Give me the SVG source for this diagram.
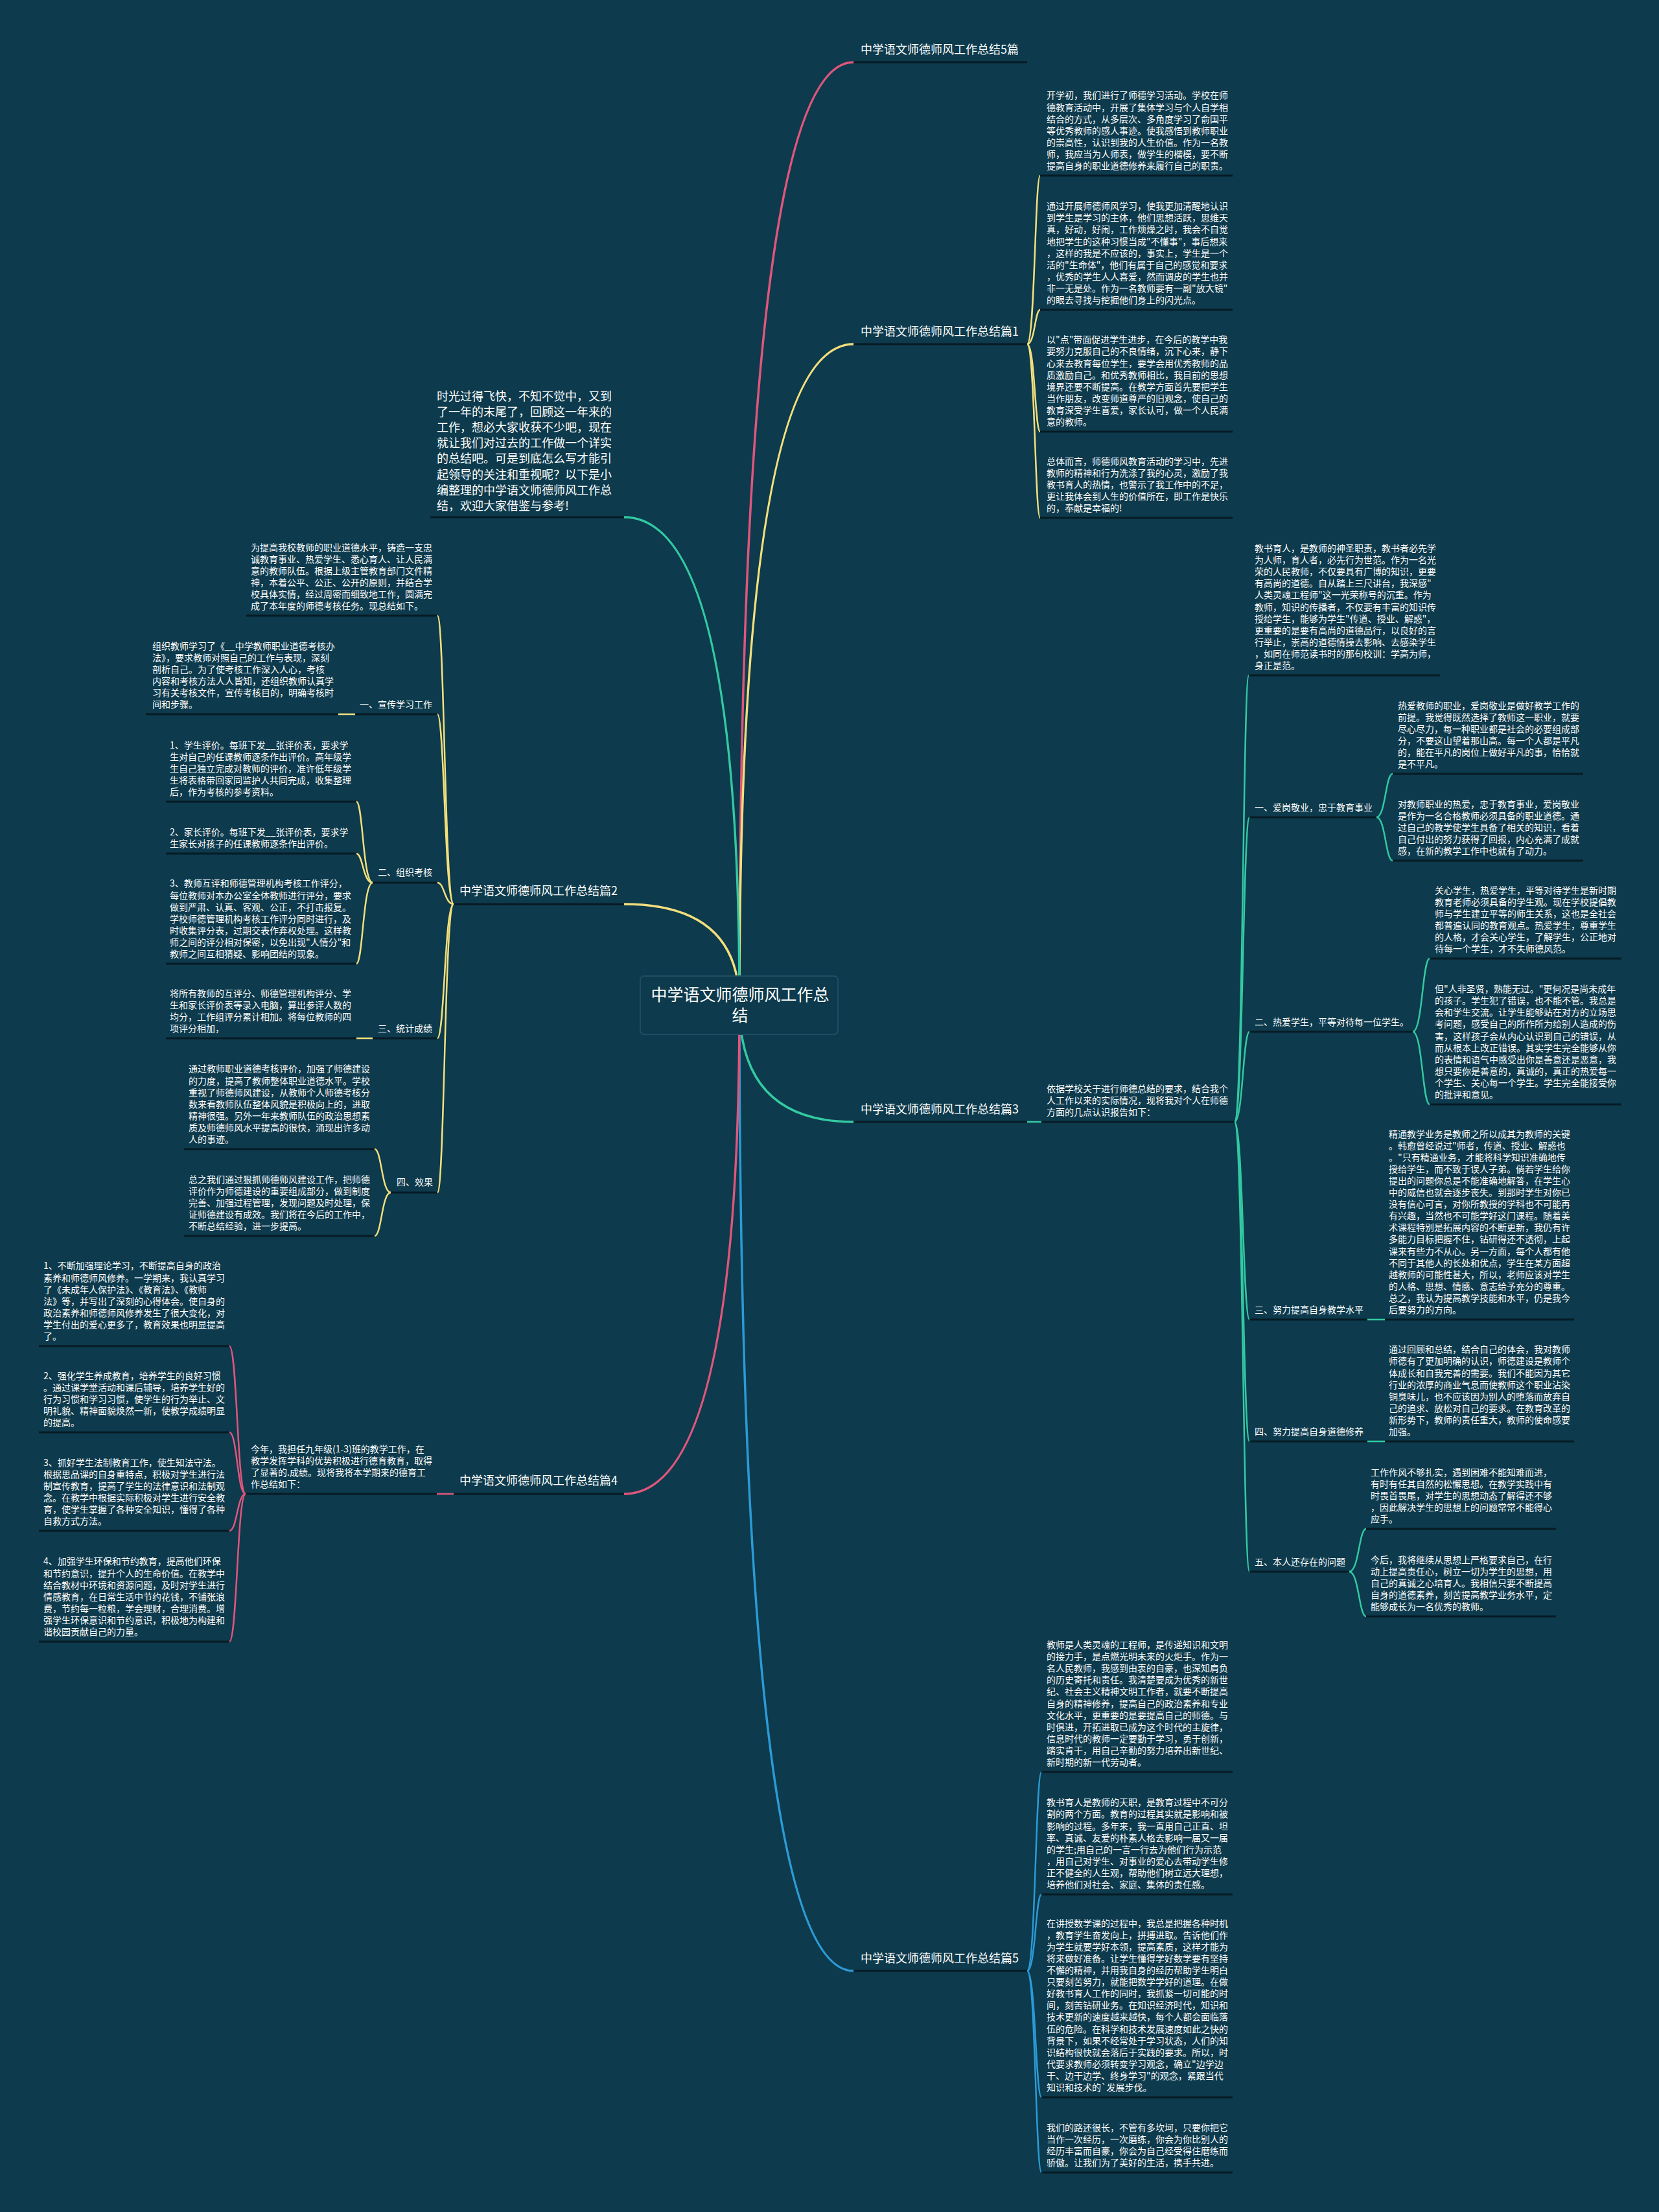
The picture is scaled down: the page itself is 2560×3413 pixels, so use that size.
<svg xmlns="http://www.w3.org/2000/svg" width="2560" height="3413" viewBox="0 0 2560 3413">
<style>
text{fill:#ffffff;font-family:"Noto Sans CJK SC","Noto Sans",sans-serif}
.t14{font-size:14px}
.t18{font-size:18px}
.t25{font-size:25px}
.ul{stroke:#071b24;stroke-width:3;fill:none}
.c{fill:none;stroke-linecap:round}
.m{stroke-width:3.5}
.s{stroke-width:2.5}
.pk{stroke:#e0567c}
.yl{stroke:#f3df7c}
.gn{stroke:#33c9a2}
.bl{stroke:#2b9bd6}
</style>
<rect width="2560" height="3413" fill="#0d3a4c"/>

<g id="connectors">
<path class="c m pk" d="M1141,1550 Q1141,96 1317,96"/>
<path class="c m yl" d="M1141,1550 Q1141,531 1317,531"/>
<path class="c m gn" d="M1141,1550 Q1141,1731 1317,1731"/>
<path class="c m bl" d="M1141,1550 Q1141,3041 1317,3041"/>
<path class="c m gn" d="M1141,1550 Q1141,798 963,798"/>
<path class="c m yl" d="M1141,1550 Q1141,1395 963,1395"/>
<path class="c m pk" d="M1141,1550 Q1141,2305 963,2305"/>
<!-- section 1 -->
<path class="c s yl" d="M1585,531 C1597,531 1597,271 1605,271"/>
<path class="c s yl" d="M1585,531 C1597,531 1597,478 1605,478"/>
<path class="c s yl" d="M1585,531 C1597,531 1597,666 1605,666"/>
<path class="c s yl" d="M1585,531 C1597,531 1597,799 1605,799"/>
<!-- section 5 -->
<path class="c s bl" d="M1585,3041 C1598,3041 1598,2734 1607,2734"/>
<path class="c s bl" d="M1585,3041 C1598,3041 1598,2923 1607,2923"/>
<path class="c s bl" d="M1585,3041 C1598,3041 1598,3236 1607,3236"/>
<path class="c s bl" d="M1585,3041 C1598,3041 1598,3352 1607,3352"/>
<!-- section 3 -->
<path class="c s gn" d="M1585,1731 L1607,1731"/>
<path class="c s gn" d="M1905,1731 C1918,1731 1918,1042 1927,1042"/>
<path class="c s gn" d="M1905,1731 C1918,1731 1918,1261 1928,1261"/>
<path class="c s gn" d="M1905,1731 C1918,1731 1918,1592 1928,1592"/>
<path class="c s gn" d="M1905,1731 C1918,1731 1918,2036 1928,2036"/>
<path class="c s gn" d="M1905,1731 C1918,1731 1918,2224 1928,2224"/>
<path class="c s gn" d="M1905,1731 C1918,1731 1918,2425 1928,2425"/>
<path class="c s gn" d="M2124,1261 C2138,1261 2138,1194 2149,1194"/>
<path class="c s gn" d="M2124,1261 C2138,1261 2138,1328 2149,1328"/>
<path class="c s gn" d="M2180,1592 C2195,1592 2195,1479 2206,1479"/>
<path class="c s gn" d="M2180,1592 C2195,1592 2195,1704 2206,1704"/>
<path class="c s gn" d="M2110,2036 L2137,2036"/>
<path class="c s gn" d="M2110,2224 L2137,2224"/>
<path class="c s gn" d="M2082,2425 C2097,2425 2097,2359 2108,2359"/>
<path class="c s gn" d="M2082,2425 C2097,2425 2097,2494 2108,2494"/>
<!-- section 2 -->
<path class="c s yl" d="M700,1395 C686,1395 686,950 675,950"/>
<path class="c s yl" d="M700,1395 C686,1395 686,1102 675,1102"/>
<path class="c s yl" d="M700,1395 C686,1395 686,1362 675,1362"/>
<path class="c s yl" d="M700,1395 C686,1395 686,1602 675,1602"/>
<path class="c s yl" d="M700,1395 C686,1395 686,1840 675,1840"/>
<path class="c s yl" d="M548,1102 L522,1102"/>
<path class="c s yl" d="M575,1362 C560,1362 560,1237 550,1237"/>
<path class="c s yl" d="M575,1362 C560,1362 560,1317 550,1317"/>
<path class="c s yl" d="M575,1362 C560,1362 560,1487 550,1487"/>
<path class="c s yl" d="M575,1602 L550,1602"/>
<path class="c s yl" d="M603,1840 C589,1840 589,1773 578,1773"/>
<path class="c s yl" d="M603,1840 C589,1840 589,1907 578,1907"/>
<!-- section 4 -->
<path class="c s pk" d="M700,2305 L674,2305"/>
<path class="c s pk" d="M379,2305 C366,2305 366,2077 354,2077"/>
<path class="c s pk" d="M379,2305 C366,2305 366,2210 354,2210"/>
<path class="c s pk" d="M379,2305 C366,2305 366,2362 354,2362"/>
<path class="c s pk" d="M379,2305 C366,2305 366,2533 354,2533"/>
</g>

<g id="center">
<rect x="988" y="1506" width="305" height="90" rx="6" fill="#0d3a4c" stroke="#1d4f62" stroke-width="2"/>
<text class="t25" x="1142" y="1544" text-anchor="middle">中学语文师德师风工作总<tspan x="1142" dy="32">结</tspan></text>
</g>

<g id="intro">
<text class="t18" x="674" y="617.5"><tspan x="674">时光过得飞快，不知不觉中，又到</tspan><tspan x="674" dy="24.2">了一年的末尾了，回顾这一年来的</tspan><tspan x="674" dy="24.2">工作，想必大家收获不少吧，现在</tspan><tspan x="674" dy="24.2">就让我们对过去的工作做一个详实</tspan><tspan x="674" dy="24.2">的总结吧。可是到底怎么写才能引</tspan><tspan x="674" dy="24.2">起领导的关注和重视呢？以下是小</tspan><tspan x="674" dy="24.2">编整理的中学语文师德师风工作总</tspan><tspan x="674" dy="24.2">结，欢迎大家借鉴与参考!</tspan></text>
<line class="ul" x1="664" y1="798" x2="963" y2="798"/>
</g>

<!-- Section 5篇 -->
<g id="sec0">
<text class="t18" x="1328" y="83">中学语文师德师风工作总结5篇</text>
<line class="ul" x1="1317" y1="96" x2="1585" y2="96"/>
</g>

<!-- Section 1 -->
<g id="sec1">
<text class="t18" x="1328" y="518">中学语文师德师风工作总结篇1</text>
<line class="ul" x1="1317" y1="531" x2="1585" y2="531"/>
</g>
<g id="sec1-a">
<text class="t14" x="1615" y="152.4"><tspan x="1615">开学初，我们进行了师德学习活动。学校在师</tspan><tspan x="1615" dy="18.1">德教育活动中，开展了集体学习与个人自学相</tspan><tspan x="1615" dy="18.1">结合的方式，从多层次、多角度学习了俞国平</tspan><tspan x="1615" dy="18.1">等优秀教师的感人事迹。使我感悟到教师职业</tspan><tspan x="1615" dy="18.1">的崇高性，认识到我的人生价值。作为一名教</tspan><tspan x="1615" dy="18.1">师，我应当为人师表，做学生的楷模，要不断</tspan><tspan x="1615" dy="18.1">提高自身的职业道德修养来履行自己的职责。</tspan></text>
<line class="ul" x1="1605" y1="271" x2="1902" y2="271"/>
</g>
<g id="sec1-b">
<text class="t14" x="1615" y="323.2"><tspan x="1615">通过开展师德师风学习，使我更加清醒地认识</tspan><tspan x="1615" dy="18.1">到学生是学习的主体，他们思想活跃，思维天</tspan><tspan x="1615" dy="18.1">真，好动，好闹，工作烦燥之时，我会不自觉</tspan><tspan x="1615" dy="18.1">地把学生的这种习惯当成"不懂事"，事后想来</tspan><tspan x="1615" dy="18.1">，这样的我是不应该的，事实上，学生是一个</tspan><tspan x="1615" dy="18.1">活的"生命体"，他们有属于自己的感觉和要求</tspan><tspan x="1615" dy="18.1">，优秀的学生人人喜爱，然而调皮的学生也并</tspan><tspan x="1615" dy="18.1">非一无是处。作为一名教师要有一副"放大镜"</tspan><tspan x="1615" dy="18.1">的眼去寻找与挖掘他们身上的闪光点。</tspan></text>
<line class="ul" x1="1605" y1="478" x2="1902" y2="478"/>
</g>
<g id="sec1-c">
<text class="t14" x="1615" y="529.3"><tspan x="1615">以"点"带面促进学生进步，在今后的教学中我</tspan><tspan x="1615" dy="18.1">要努力克服自己的不良情绪，沉下心来，静下</tspan><tspan x="1615" dy="18.1">心来去教育每位学生，要学会用优秀教师的品</tspan><tspan x="1615" dy="18.1">质激励自己。和优秀教师相比，我目前的思想</tspan><tspan x="1615" dy="18.1">境界还要不断提高。在教学方面首先要把学生</tspan><tspan x="1615" dy="18.1">当作朋友，改变师道尊严的旧观念，使自己的</tspan><tspan x="1615" dy="18.1">教育深受学生喜爱，家长认可，做一个人民满</tspan><tspan x="1615" dy="18.1">意的教师。</tspan></text>
<line class="ul" x1="1605" y1="666" x2="1902" y2="666"/>
</g>
<g id="sec1-d">
<text class="t14" x="1615" y="716.6"><tspan x="1615">总体而言，师德师风教育活动的学习中，先进</tspan><tspan x="1615" dy="18.1">教师的精神和行为洗涤了我的心灵，激励了我</tspan><tspan x="1615" dy="18.1">教书育人的热情，也警示了我工作中的不足，</tspan><tspan x="1615" dy="18.1">更让我体会到人生的价值所在，即工作是快乐</tspan><tspan x="1615" dy="18.1">的，奉献是幸福的!</tspan></text>
<line class="ul" x1="1605" y1="799" x2="1902" y2="799"/>
</g>

<!-- Section 2 -->
<g id="sec2">
<text class="t18" x="709" y="1381">中学语文师德师风工作总结篇2</text>
<line class="ul" x1="700" y1="1395" x2="963" y2="1395"/>
</g>
<g id="sec2-intro">
<text class="t14" x="387" y="849.5"><tspan x="387">为提高我校教师的职业道德水平，铸造一支忠</tspan><tspan x="387" dy="18.1">诚教育事业、热爱学生、悉心育人、让人民满</tspan><tspan x="387" dy="18.1">意的教师队伍。根据上级主管教育部门文件精</tspan><tspan x="387" dy="18.1">神，本着公平、公正、公开的原则，并结合学</tspan><tspan x="387" dy="18.1">校具体实情，经过周密而细致地工作，圆满完</tspan><tspan x="387" dy="18.1">成了本年度的师德考核任务。现总结如下。</tspan></text>
<line class="ul" x1="380" y1="950" x2="675" y2="950"/>
</g>
<g id="sec2-1">
<text class="t14" x="555" y="1092">一、宣传学习工作</text>
<line class="ul" x1="548" y1="1102" x2="675" y2="1102"/>
</g>
<g id="sec2-1a">
<text class="t14" x="235" y="1001.5"><tspan x="235">组织教师学习了《__中学教师职业道德考核办</tspan><tspan x="235" dy="18.1">法》，要求教师对照自己的工作与表现，深刻</tspan><tspan x="235" dy="18.1">剖析自己。为了使考核工作深入人心，考核</tspan><tspan x="235" dy="18.1">内容和考核方法人人皆知，还组织教师认真学</tspan><tspan x="235" dy="18.1">习有关考核文件，宣传考核目的，明确考核时</tspan><tspan x="235" dy="18.1">间和步骤。</tspan></text>
<line class="ul" x1="225" y1="1102" x2="522" y2="1102"/>
</g>
<g id="sec2-2">
<text class="t14" x="583" y="1351">二、组织考核</text>
<line class="ul" x1="575" y1="1362" x2="675" y2="1362"/>
</g>
<g id="sec2-2a">
<text class="t14" x="262" y="1154.6"><tspan x="262">1、学生评价。每班下发__张评价表，要求学</tspan><tspan x="262" dy="18.1">生对自己的任课教师逐条作出评价。高年级学</tspan><tspan x="262" dy="18.1">生自己独立完成对教师的评价，准许低年级学</tspan><tspan x="262" dy="18.1">生将表格带回家同监护人共同完成，收集整理</tspan><tspan x="262" dy="18.1">后，作为考核的参考资料。</tspan></text>
<line class="ul" x1="256" y1="1237" x2="550" y2="1237"/>
</g>
<g id="sec2-2b">
<text class="t14" x="262" y="1288.9"><tspan x="262">2、家长评价。每班下发__张评价表，要求学</tspan><tspan x="262" dy="18.1">生家长对孩子的任课教师逐条作出评价。</tspan></text>
<line class="ul" x1="256" y1="1317" x2="550" y2="1317"/>
</g>
<g id="sec2-2c">
<text class="t14" x="262" y="1368.4"><tspan x="262">3、教师互评和师德管理机构考核工作评分，</tspan><tspan x="262" dy="18.1">每位教师对本办公室全体教师进行评分，要求</tspan><tspan x="262" dy="18.1">做到严肃、认真、客观、公正，不打击报复。</tspan><tspan x="262" dy="18.1">学校师德管理机构考核工作评分同时进行，及</tspan><tspan x="262" dy="18.1">时收集评分表，过期交表作弃权处理。这样教</tspan><tspan x="262" dy="18.1">师之间的评分相对保密，以免出现"人情分"和</tspan><tspan x="262" dy="18.1">教师之间互相猜疑、影响团结的现象。</tspan></text>
<line class="ul" x1="256" y1="1487" x2="550" y2="1487"/>
</g>
<g id="sec2-3">
<text class="t14" x="583" y="1592">三、统计成绩</text>
<line class="ul" x1="575" y1="1602" x2="675" y2="1602"/>
</g>
<g id="sec2-3a">
<text class="t14" x="262" y="1537.7"><tspan x="262">将所有教师的互评分、师德管理机构评分、学</tspan><tspan x="262" dy="18.1">生和家长评价表等录入电脑，算出参评人数的</tspan><tspan x="262" dy="18.1">均分，工作组评分累计相加。将每位教师的四</tspan><tspan x="262" dy="18.1">项评分相加，</tspan></text>
<line class="ul" x1="256" y1="1602" x2="550" y2="1602"/>
</g>
<g id="sec2-4">
<text class="t14" x="612" y="1829">四、效果</text>
<line class="ul" x1="603" y1="1840" x2="675" y2="1840"/>
</g>
<g id="sec2-4a">
<text class="t14" x="291" y="1654.4"><tspan x="291">通过教师职业道德考核评价，加强了师德建设</tspan><tspan x="291" dy="18.1">的力度，提高了教师整体职业道德水平。学校</tspan><tspan x="291" dy="18.1">重视了师德师风建设，从教师个人师德考核分</tspan><tspan x="291" dy="18.1">数来看教师队伍整体风貌是积极向上的，进取</tspan><tspan x="291" dy="18.1">精神很强。另外一年来教师队伍的政治思想素</tspan><tspan x="291" dy="18.1">质及师德师风水平提高的很快，涌现出许多动</tspan><tspan x="291" dy="18.1">人的事迹。</tspan></text>
<line class="ul" x1="284" y1="1773" x2="578" y2="1773"/>
</g>
<g id="sec2-4b">
<text class="t14" x="291" y="1824.6"><tspan x="291">总之我们通过狠抓师德师风建设工作，把师德</tspan><tspan x="291" dy="18.1">评价作为师德建设的重要组成部分，做到制度</tspan><tspan x="291" dy="18.1">完善、加强过程管理，发现问题及时处理，保</tspan><tspan x="291" dy="18.1">证师德建设有成效。我们将在今后的工作中，</tspan><tspan x="291" dy="18.1">不断总结经验，进一步提高。</tspan></text>
<line class="ul" x1="284" y1="1907" x2="578" y2="1907"/>
</g>

<!-- Section 3 -->
<g id="sec3">
<text class="t18" x="1328" y="1718">中学语文师德师风工作总结篇3</text>
<line class="ul" x1="1317" y1="1731" x2="1585" y2="1731"/>
</g>
<g id="sec3-intro">
<text class="t14" x="1615" y="1684.8"><tspan x="1615">依据学校关于进行师德总结的要求，结合我个</tspan><tspan x="1615" dy="18.1">人工作以来的实际情况，现将我对个人在师德</tspan><tspan x="1615" dy="18.1">方面的几点认识报告如下：</tspan></text>
<line class="ul" x1="1607" y1="1731" x2="1905" y2="1731"/>
</g>
<g id="sec3-0">
<text class="t14" x="1936" y="851"><tspan x="1936">教书育人，是教师的神圣职责，教书者必先学</tspan><tspan x="1936" dy="18.1">为人师，育人者，必先行为世范。作为一名光</tspan><tspan x="1936" dy="18.1">荣的人民教师，不仅要具有广博的知识，更要</tspan><tspan x="1936" dy="18.1">有高尚的道德。自从踏上三尺讲台，我深感"</tspan><tspan x="1936" dy="18.1">人类灵魂工程师"这一光荣称号的沉重。作为</tspan><tspan x="1936" dy="18.1">教师，知识的传播者，不仅要有丰富的知识传</tspan><tspan x="1936" dy="18.1">授给学生，能够为学生"传道、授业、解惑"，</tspan><tspan x="1936" dy="18.1">更重要的是要有高尚的道德品行，以良好的言</tspan><tspan x="1936" dy="18.1">行举止，崇高的道德情操去影响、去感染学生</tspan><tspan x="1936" dy="18.1">，如同在师范读书时的那句校训：学高为师，</tspan><tspan x="1936" dy="18.1">身正是范。</tspan></text>
<line class="ul" x1="1927" y1="1042" x2="2222" y2="1042"/>
</g>
<g id="sec3-1">
<text class="t14" x="1936" y="1251">一、爱岗敬业，忠于教育事业</text>
<line class="ul" x1="1928" y1="1261" x2="2124" y2="1261"/>
</g>
<g id="sec3-1a">
<text class="t14" x="2157" y="1093.5"><tspan x="2157">热爱教师的职业，爱岗敬业是做好教学工作的</tspan><tspan x="2157" dy="18.1">前提。我觉得既然选择了教师这一职业，就要</tspan><tspan x="2157" dy="18.1">尽心尽力，每一种职业都是社会的必要组成部</tspan><tspan x="2157" dy="18.1">分，不要这山望着那山高。每一个人都是平凡</tspan><tspan x="2157" dy="18.1">的，能在平凡的岗位上做好平凡的事，恰恰就</tspan><tspan x="2157" dy="18.1">是不平凡。</tspan></text>
<line class="ul" x1="2149" y1="1194" x2="2443" y2="1194"/>
</g>
<g id="sec3-1b">
<text class="t14" x="2157" y="1245.6"><tspan x="2157">对教师职业的热爱，忠于教育事业，爱岗敬业</tspan><tspan x="2157" dy="18.1">是作为一名合格教师必须具备的职业道德。通</tspan><tspan x="2157" dy="18.1">过自己的教学使学生具备了相关的知识，看着</tspan><tspan x="2157" dy="18.1">自己付出的努力获得了回报，内心充满了成就</tspan><tspan x="2157" dy="18.1">感，在新的教学工作中也就有了动力。</tspan></text>
<line class="ul" x1="2149" y1="1328" x2="2443" y2="1328"/>
</g>
<g id="sec3-2">
<text class="t14" x="1936" y="1582">二、热爱学生，平等对待每一位学生。</text>
<line class="ul" x1="1928" y1="1592" x2="2180" y2="1592"/>
</g>
<g id="sec3-2a">
<text class="t14" x="2214" y="1378.5"><tspan x="2214">关心学生，热爱学生，平等对待学生是新时期</tspan><tspan x="2214" dy="18.1">教育老师必须具备的学生观。现在学校提倡教</tspan><tspan x="2214" dy="18.1">师与学生建立平等的师生关系，这也是全社会</tspan><tspan x="2214" dy="18.1">都普遍认同的教育观点。热爱学生，尊重学生</tspan><tspan x="2214" dy="18.1">的人格，才会关心学生，了解学生，公正地对</tspan><tspan x="2214" dy="18.1">待每一个学生，才不失师德风范。</tspan></text>
<line class="ul" x1="2206" y1="1479" x2="2502" y2="1479"/>
</g>
<g id="sec3-2b">
<text class="t14" x="2214" y="1531.1"><tspan x="2214">但"人非圣贤，熟能无过。"更何况是尚未成年</tspan><tspan x="2214" dy="18.1">的孩子。学生犯了错误，也不能不管。我总是</tspan><tspan x="2214" dy="18.1">会和学生交流。让学生能够站在对方的立场思</tspan><tspan x="2214" dy="18.1">考问题，感受自己的所作所为给别人造成的伤</tspan><tspan x="2214" dy="18.1">害，这样孩子会从内心认识到自己的错误，从</tspan><tspan x="2214" dy="18.1">而从根本上改正错误。其实学生完全能够从你</tspan><tspan x="2214" dy="18.1">的表情和语气中感受出你是善意还是恶意，我</tspan><tspan x="2214" dy="18.1">想只要你是善意的，真诚的，真正的热爱每一</tspan><tspan x="2214" dy="18.1">个学生、关心每一个学生。学生完全能接受你</tspan><tspan x="2214" dy="18.1">的批评和意见。</tspan></text>
<line class="ul" x1="2206" y1="1704" x2="2502" y2="1704"/>
</g>
<g id="sec3-3">
<text class="t14" x="1936" y="2026">三、努力提高自身教学水平</text>
<line class="ul" x1="1928" y1="2036" x2="2110" y2="2036"/>
</g>
<g id="sec3-3a">
<text class="t14" x="2143" y="1754.5"><tspan x="2143">精通教学业务是教师之所以成其为教师的关键</tspan><tspan x="2143" dy="18.1">。韩愈曾经说过"师者，传道、授业、解惑也</tspan><tspan x="2143" dy="18.1">。"只有精通业务，才能将科学知识准确地传</tspan><tspan x="2143" dy="18.1">授给学生，而不致于误人子弟。倘若学生给你</tspan><tspan x="2143" dy="18.1">提出的问题你总是不能准确地解答，在学生心</tspan><tspan x="2143" dy="18.1">中的威信也就会逐步丧失。到那时学生对你已</tspan><tspan x="2143" dy="18.1">没有信心可言，对你所教授的学科也不可能再</tspan><tspan x="2143" dy="18.1">有兴趣，当然也不可能学好这门课程。随着美</tspan><tspan x="2143" dy="18.1">术课程特别是拓展内容的不断更新，我仍有许</tspan><tspan x="2143" dy="18.1">多能力目标把握不住，钻研得还不透彻，上起</tspan><tspan x="2143" dy="18.1">课来有些力不从心。另一方面，每个人都有他</tspan><tspan x="2143" dy="18.1">不同于其他人的长处和优点，学生在某方面超</tspan><tspan x="2143" dy="18.1">越教师的可能性甚大，所以，老师应该对学生</tspan><tspan x="2143" dy="18.1">的人格、思想、情感、意志给予充分的尊重。</tspan><tspan x="2143" dy="18.1">总之，我认为提高教学技能和水平，仍是我今</tspan><tspan x="2143" dy="18.1">后要努力的方向。</tspan></text>
<line class="ul" x1="2137" y1="2036" x2="2429" y2="2036"/>
</g>
<g id="sec3-4">
<text class="t14" x="1936" y="2214">四、努力提高自身道德修养</text>
<line class="ul" x1="1928" y1="2224" x2="2110" y2="2224"/>
</g>
<g id="sec3-4a">
<text class="t14" x="2143" y="2087.3"><tspan x="2143">通过回顾和总结，结合自己的体会，我对教师</tspan><tspan x="2143" dy="18.1">师德有了更加明确的认识，师德建设是教师个</tspan><tspan x="2143" dy="18.1">体成长和自我完善的需要。我们不能因为其它</tspan><tspan x="2143" dy="18.1">行业的浓厚的商业气息而使教师这个职业沾染</tspan><tspan x="2143" dy="18.1">铜臭味儿，也不应该因为别人的堕落而放弃自</tspan><tspan x="2143" dy="18.1">己的追求、放松对自己的要求。在教育改革的</tspan><tspan x="2143" dy="18.1">新形势下，教师的责任重大，教师的使命感要</tspan><tspan x="2143" dy="18.1">加强。</tspan></text>
<line class="ul" x1="2137" y1="2224" x2="2429" y2="2224"/>
</g>
<g id="sec3-5">
<text class="t14" x="1936" y="2415">五、本人还存在的问题</text>
<line class="ul" x1="1928" y1="2425" x2="2082" y2="2425"/>
</g>
<g id="sec3-5a">
<text class="t14" x="2115" y="2276.6"><tspan x="2115">工作作风不够扎实，遇到困难不能知难而进，</tspan><tspan x="2115" dy="18.1">有时有任其自然的松懈思想。在教学实践中有</tspan><tspan x="2115" dy="18.1">时畏首畏尾，对学生的思想动态了解得还不够</tspan><tspan x="2115" dy="18.1">，因此解决学生的思想上的问题常常不能得心</tspan><tspan x="2115" dy="18.1">应手。</tspan></text>
<line class="ul" x1="2108" y1="2359" x2="2401" y2="2359"/>
</g>
<g id="sec3-5b">
<text class="t14" x="2115" y="2411.6"><tspan x="2115">今后，我将继续从思想上严格要求自己，在行</tspan><tspan x="2115" dy="18.1">动上提高责任心，树立一切为学生的思想，用</tspan><tspan x="2115" dy="18.1">自己的真诚之心培育人。我相信只要不断提高</tspan><tspan x="2115" dy="18.1">自身的道德素养，刻苦提高教学业务水平，定</tspan><tspan x="2115" dy="18.1">能够成长为一名优秀的教师。</tspan></text>
<line class="ul" x1="2108" y1="2494" x2="2401" y2="2494"/>
</g>

<!-- Section 4 -->
<g id="sec4">
<text class="t18" x="709" y="2291">中学语文师德师风工作总结篇4</text>
<line class="ul" x1="700" y1="2305" x2="963" y2="2305"/>
</g>
<g id="sec4-intro">
<text class="t14" x="387" y="2240.7"><tspan x="387">今年，我担任九年级(1-3)班的教学工作，在</tspan><tspan x="387" dy="18.1">教学发挥学科的优势积极进行德育教育，取得</tspan><tspan x="387" dy="18.1">了显著的.成绩。现将我将本学期来的德育工</tspan><tspan x="387" dy="18.1">作总结如下：</tspan></text>
<line class="ul" x1="379" y1="2305" x2="674" y2="2305"/>
</g>
<g id="sec4-1">
<text class="t14" x="67" y="1958.4"><tspan x="67">1、不断加强理论学习，不断提高自身的政治</tspan><tspan x="67" dy="18.1">素养和师德师风修养。一学期来，我认真学习</tspan><tspan x="67" dy="18.1">了《未成年人保护法》、《教育法》、《教师</tspan><tspan x="67" dy="18.1">法》等，并写出了深刻的心得体会。使自身的</tspan><tspan x="67" dy="18.1">政治素养和师德师风修养发生了很大变化，对</tspan><tspan x="67" dy="18.1">学生付出的爱心更多了，教育效果也明显提高</tspan><tspan x="67" dy="18.1">了。</tspan></text>
<line class="ul" x1="60" y1="2077" x2="354" y2="2077"/>
</g>
<g id="sec4-2">
<text class="t14" x="67" y="2127.6"><tspan x="67">2、强化学生养成教育，培养学生的良好习惯</tspan><tspan x="67" dy="18.1">。通过课学堂活动和课后辅导，培养学生好的</tspan><tspan x="67" dy="18.1">行为习惯和学习习惯，使学生的行为举止、文</tspan><tspan x="67" dy="18.1">明礼貌、精神面貌焕然一新，使教学成绩明显</tspan><tspan x="67" dy="18.1">的提高。</tspan></text>
<line class="ul" x1="60" y1="2210" x2="354" y2="2210"/>
</g>
<g id="sec4-3">
<text class="t14" x="67" y="2261.5"><tspan x="67">3、抓好学生法制教育工作，使生知法守法。</tspan><tspan x="67" dy="18.1">根据思品课的自身重特点，积极对学生进行法</tspan><tspan x="67" dy="18.1">制宣传教育，提高了学生的法律意识和法制观</tspan><tspan x="67" dy="18.1">念。在教学中根据实际积极对学生进行安全教</tspan><tspan x="67" dy="18.1">育，使学生掌握了各种安全知识，懂得了各种</tspan><tspan x="67" dy="18.1">自救方式方法。</tspan></text>
<line class="ul" x1="60" y1="2362" x2="354" y2="2362"/>
</g>
<g id="sec4-4">
<text class="t14" x="67" y="2414.4"><tspan x="67">4、加强学生环保和节约教育，提高他们环保</tspan><tspan x="67" dy="18.1">和节约意识，提升个人的生命价值。在教学中</tspan><tspan x="67" dy="18.1">结合教材中环境和资源问题，及时对学生进行</tspan><tspan x="67" dy="18.1">情感教育，在日常生活中节约花钱，不铺张浪</tspan><tspan x="67" dy="18.1">费，节约每一粒粮，学会理财，合理消费。增</tspan><tspan x="67" dy="18.1">强学生环保意识和节约意识，积极地为构建和</tspan><tspan x="67" dy="18.1">谐校园贡献自己的力量。</tspan></text>
<line class="ul" x1="60" y1="2533" x2="354" y2="2533"/>
</g>

<!-- Section 5 -->
<g id="sec5">
<text class="t18" x="1328" y="3028">中学语文师德师风工作总结篇5</text>
<line class="ul" x1="1317" y1="3041" x2="1585" y2="3041"/>
</g>
<g id="sec5-1">
<text class="t14" x="1615" y="2543"><tspan x="1615">教师是人类灵魂的工程师，是传递知识和文明</tspan><tspan x="1615" dy="18.1">的接力手，是点燃光明未来的火炬手。作为一</tspan><tspan x="1615" dy="18.1">名人民教师，我感到由衷的自豪，也深知肩负</tspan><tspan x="1615" dy="18.1">的历史寄托和责任。我清楚要成为优秀的新世</tspan><tspan x="1615" dy="18.1">纪、社会主义精神文明工作者，就要不断提高</tspan><tspan x="1615" dy="18.1">自身的精神修养，提高自己的政治素养和专业</tspan><tspan x="1615" dy="18.1">文化水平，更重要的是要提高自己的师德。与</tspan><tspan x="1615" dy="18.1">时俱进，开拓进取已成为这个时代的主旋律，</tspan><tspan x="1615" dy="18.1">信息时代的教师一定要勤于学习，勇于创新，</tspan><tspan x="1615" dy="18.1">踏实肯干，用自己辛勤的努力培养出新世纪、</tspan><tspan x="1615" dy="18.1">新时期的新一代劳动者。</tspan></text>
<line class="ul" x1="1607" y1="2734" x2="1902" y2="2734"/>
</g>
<g id="sec5-2">
<text class="t14" x="1615" y="2786.3"><tspan x="1615">教书育人是教师的天职，是教育过程中不可分</tspan><tspan x="1615" dy="18.1">割的两个方面。教育的过程其实就是影响和被</tspan><tspan x="1615" dy="18.1">影响的过程。多年来，我一直用自己正直、坦</tspan><tspan x="1615" dy="18.1">率、真诚、友爱的朴素人格去影响一届又一届</tspan><tspan x="1615" dy="18.1">的学生;用自己的一言一行去为他们行为示范</tspan><tspan x="1615" dy="18.1">，用自己对学生、对事业的爱心去带动学生修</tspan><tspan x="1615" dy="18.1">正不健全的人生观，帮助他们树立远大理想，</tspan><tspan x="1615" dy="18.1">培养他们对社会、家庭、集体的责任感。</tspan></text>
<line class="ul" x1="1607" y1="2923" x2="1902" y2="2923"/>
</g>
<g id="sec5-3">
<text class="t14" x="1615" y="2972.6"><tspan x="1615">在讲授数学课的过程中，我总是把握各种时机</tspan><tspan x="1615" dy="18.1">，教育学生奋发向上，拼搏进取。告诉他们作</tspan><tspan x="1615" dy="18.1">为学生就要学好本领，提高素质，这样才能为</tspan><tspan x="1615" dy="18.1">将来做好准备。让学生懂得学好数学要有坚持</tspan><tspan x="1615" dy="18.1">不懈的精神，并用我自身的经历帮助学生明白</tspan><tspan x="1615" dy="18.1">只要刻苦努力，就能把数学学好的道理。在做</tspan><tspan x="1615" dy="18.1">好教书育人工作的同时，我抓紧一切可能的时</tspan><tspan x="1615" dy="18.1">间，刻苦钻研业务。在知识经济时代，知识和</tspan><tspan x="1615" dy="18.1">技术更新的速度越来越快，每个人都会面临落</tspan><tspan x="1615" dy="18.1">伍的危险。在科学和技术发展速度如此之快的</tspan><tspan x="1615" dy="18.1">背景下，如果不经常处于学习状态，人们的知</tspan><tspan x="1615" dy="18.1">识结构很快就会落后于实践的要求。所以，时</tspan><tspan x="1615" dy="18.1">代要求教师必须转变学习观念，确立"边学边</tspan><tspan x="1615" dy="18.1">干、边干边学、终身学习"的观念，紧跟当代</tspan><tspan x="1615" dy="18.1">知识和技术的`发展步伐。</tspan></text>
<line class="ul" x1="1607" y1="3236" x2="1902" y2="3236"/>
</g>
<g id="sec5-4">
<text class="t14" x="1615" y="3287.7"><tspan x="1615">我们的路还很长，不管有多坎坷，只要你把它</tspan><tspan x="1615" dy="18.1">当作一次经历，一次磨练，你会为你比别人的</tspan><tspan x="1615" dy="18.1">经历丰富而自豪，你会为自己经受得住磨练而</tspan><tspan x="1615" dy="18.1">骄傲。让我们为了美好的生活，携手共进。</tspan></text>
<line class="ul" x1="1607" y1="3352" x2="1902" y2="3352"/>
</g>
</svg>
